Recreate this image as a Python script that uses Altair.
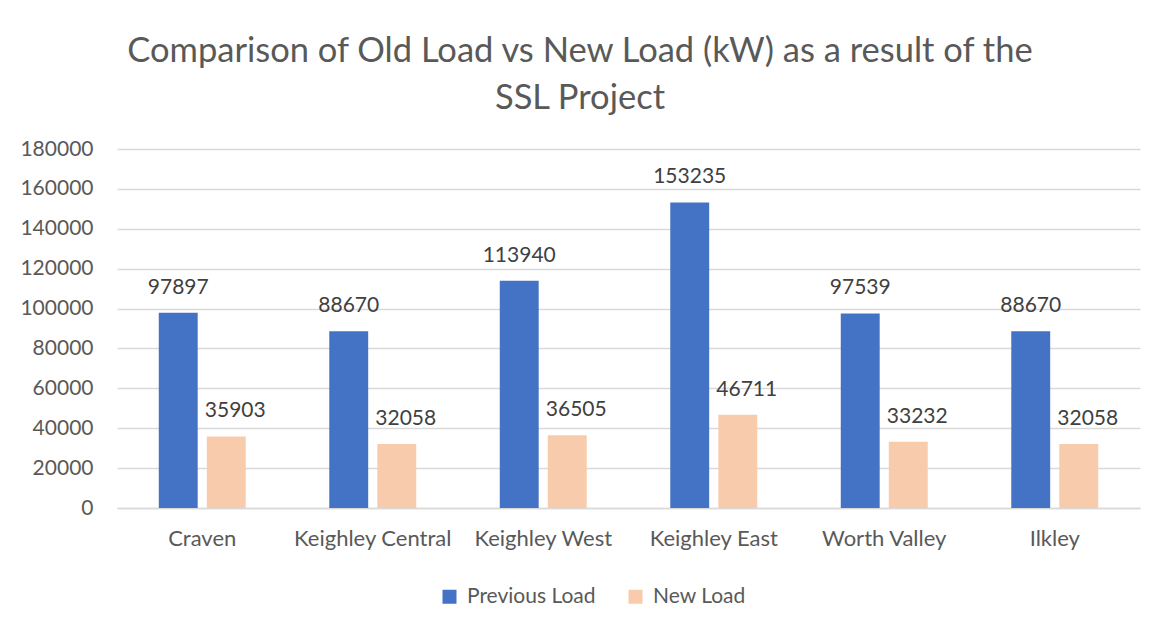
import altair as alt
import pandas as pd

categories = ["Craven", "Keighley Central", "Keighley West", "Keighley East", "Worth Valley", "Ilkley"]
previous_load = [97897, 88670, 113940, 153235, 97539, 88670]
new_load = [35903, 32058, 36505, 46711, 33232, 32058]
series_names = ["Previous Load", "New Load"]
series_colors = ["#4472C4", "#F8CBAD"]
y_ticks = list(range(0, 180001, 20000))

rows = []
for c, p, n in zip(categories, previous_load, new_load):
    rows.append({"Area": c, "Series": series_names[0], "Load": p})
    rows.append({"Area": c, "Series": series_names[1], "Load": n})
df = pd.DataFrame(rows)

FONT = "Lato"
GREY = "#595959"

x = alt.X("Area:N", sort=categories,
          scale=alt.Scale(paddingInner=0.49, paddingOuter=0.245),
          axis=alt.Axis(title=None, labelAngle=0, labelFontSize=22, labelColor=GREY,
                        labelFont=FONT, labelPadding=20, ticks=False,
                        domainColor="#D9D9D9", domainWidth=1.5, labelBaseline="top"))
xo = alt.XOffset("Series:N", sort=series_names,
                 scale=alt.Scale(paddingInner=0.19, paddingOuter=0))
y = alt.Y("Load:Q", scale=alt.Scale(domain=[0, 180000], nice=False),
          axis=alt.Axis(title=None, values=y_ticks, format="d", labelFontSize=21,
                        labelColor=GREY, labelFont=FONT, labelPadding=24, ticks=False,
                        domain=False, gridColor="#D9D9D9", gridWidth=1.5))

bars = alt.Chart(df).mark_bar().encode(
    x=x, xOffset=xo, y=y,
    color=alt.Color("Series:N", sort=series_names,
                    scale=alt.Scale(domain=series_names, range=series_colors),
                    legend=alt.Legend(title=None, orient="none", legendX=322, legendY=437,
                                      direction="horizontal", padding=0,
                                      symbolType="square", symbolSize=196,
                                      symbolStrokeWidth=0, labelFontSize=21,
                                      labelColor=GREY, labelFont=FONT, labelOffset=7,
                                      columnPadding=29)),
)

text_prev = alt.Chart(df).transform_filter(alt.datum.Series == series_names[0]).mark_text(
    fontSize=21, font=FONT, color="#404040", baseline="alphabetic", dy=-19
).encode(x=x, xOffset=xo, y=y, text=alt.Text("Load:Q", format="d"))

text_new = alt.Chart(df).transform_filter(alt.datum.Series == series_names[1]).mark_text(
    fontSize=21, font=FONT, color="#404040", baseline="alphabetic", dy=-19, dx=9
).encode(x=x, xOffset=xo, y=y, text=alt.Text("Load:Q", format="d"))

chart = alt.layer(bars, text_prev, text_new).properties(
    width=1023, height=359,
    title=alt.TitleParams(
        ["Comparison of Old Load vs New Load (kW) as a result of the", "SSL Project"],
        fontSize=34.5, font=FONT, color=GREY, fontWeight="normal",
        lineHeight=47, anchor="middle", frame="bounds", offset=22),
    autosize=alt.AutoSizeParams(type="none"),
    padding={"left": 109, "top": 141, "right": 9, "bottom": 100},
).configure_view(stroke=None)

chart.save("out.html", embed_options={"renderer": "svg", "actions": False})
